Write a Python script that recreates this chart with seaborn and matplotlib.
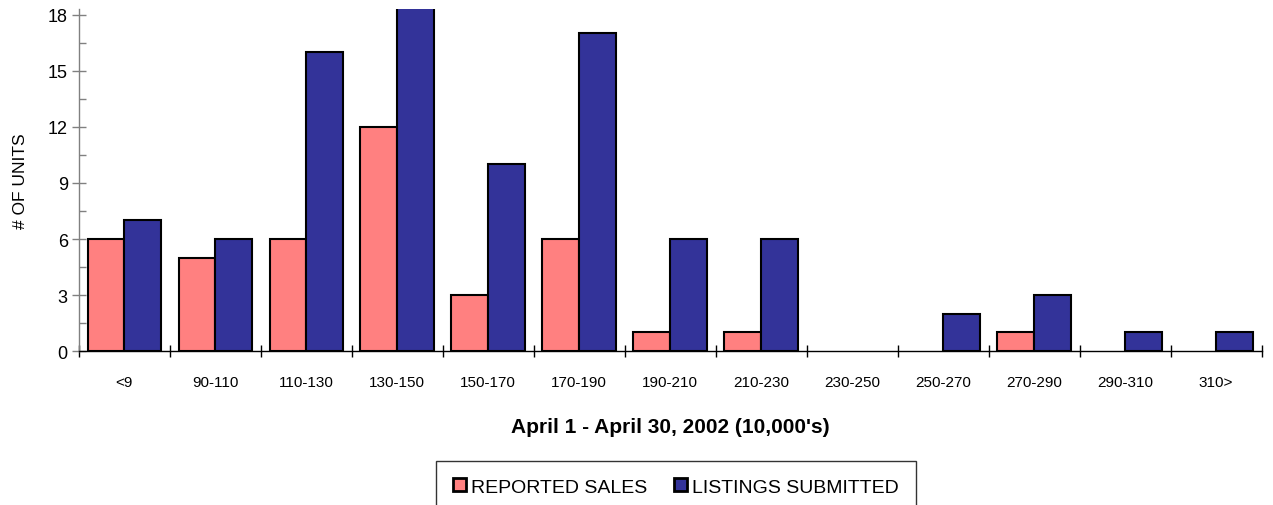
import pandas as pd
import seaborn as sns
import matplotlib.pyplot as plt
from matplotlib.ticker import MultipleLocator

# Rangos de precio (10,000's)
rangos = ['<9', '90-110', '110-130', '130-150', '150-170', '170-190', '190-210',
          '210-230', '230-250', '250-270', '270-290', '290-310', '310>']
ventas = [6, 5, 6, 12, 3, 6, 1, 1, 0, 0, 1, 0, 0]
listados = [7, 6, 16, 21, 10, 17, 6, 6, 0, 2, 3, 1, 1]

series = ['REPORTED SALES', 'LISTINGS SUBMITTED']
colores = ['#FF8080', '#333399']

df = pd.DataFrame({
    'Rango': rangos * 2,
    'Unidades': ventas + listados,
    'Serie': [series[0]] * len(rangos) + [series[1]] * len(rangos),
})

sns.set_style('white')
plt.rcParams['font.family'] = ['Liberation Sans', 'DejaVu Sans']
plt.rcParams['text.color'] = 'black'
plt.rcParams['axes.labelcolor'] = 'black'
plt.rcParams['xtick.color'] = 'black'
plt.rcParams['ytick.color'] = 'black'

fig = plt.figure(figsize=(12.73, 5.06), dpi=100)
ax = fig.add_axes([0.062, 0.304, 0.929, 0.676])

sns.barplot(data=df, x='Rango', y='Unidades', hue='Serie', order=rangos,
            hue_order=series, palette=colores, width=0.81, saturation=1,
            edgecolor='black', linewidth=1.5, ax=ax, legend=True)

# barras en cero no se ven en el original
for cont in ax.containers:
    for p in cont.patches:
        if p.get_height() == 0:
            p.set_edgecolor('none')

ax.set_xlim(-0.5, len(rangos) - 0.5)
ax.set_ylim(0, 18.3)
ax.yaxis.set_major_locator(MultipleLocator(3))
ax.yaxis.set_minor_locator(MultipleLocator(1.5))
ax.set_xticks([i + 0.5 for i in range(-1, len(rangos))], minor=True)

ax.tick_params(axis='y', which='major', direction='inout', length=10, width=1,
               color='gray', labelsize=13, pad=3, left=True)
ax.tick_params(axis='y', which='minor', direction='in', length=5, width=1,
               color='gray', left=True)
ax.tick_params(axis='x', which='major', length=0, labelsize=11, pad=17)
ax.tick_params(axis='x', which='minor', direction='inout', length=9, width=1,
               color='black', bottom=True)

for s in ['top', 'right']:
    ax.spines[s].set_visible(False)
ax.spines['left'].set_color('gray')
ax.spines['bottom'].set_color('black')
ax.spines['left'].set_linewidth(1)
ax.spines['bottom'].set_linewidth(1)

ax.set_ylabel('# OF UNITS', fontsize=12.5, labelpad=14)
ax.set_xlabel("April 1 - April 30, 2002 (10,000's)", fontsize=15, fontweight='bold', labelpad=20)

handles, labels = ax.get_legend_handles_labels()
ax.get_legend().remove()
leg = fig.legend(handles, labels, loc='upper center', bbox_to_anchor=(0.531, 0.087),
                 ncol=2, fontsize=14, frameon=True, fancybox=False, borderpad=0.9,
                 handlelength=0.65, handleheight=0.65, handletextpad=0.25,
                 columnspacing=1.4, borderaxespad=0)
leg.get_frame().set_edgecolor('black')
leg.get_frame().set_linewidth(1)
for h in leg.legend_handles:
    h.set_edgecolor('black')
    h.set_linewidth(2)

fig.savefig('out.png', dpi=100)
